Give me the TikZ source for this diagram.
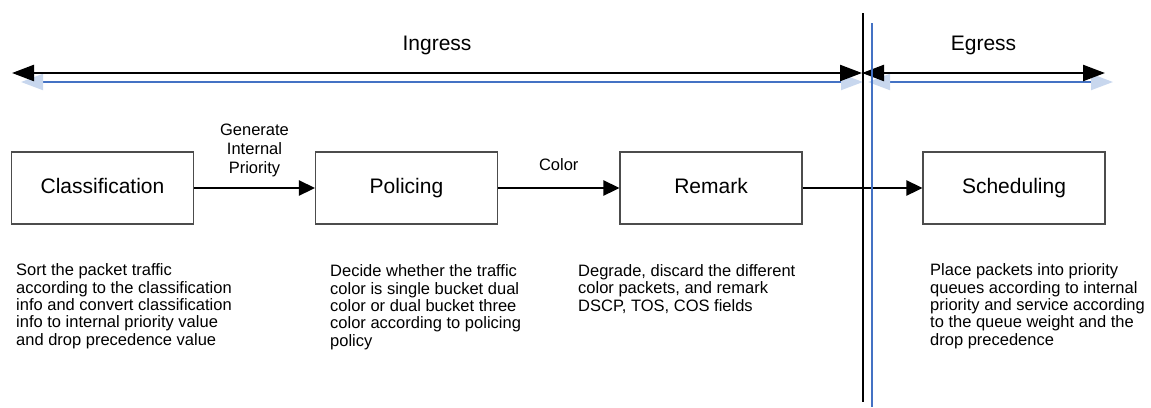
\documentclass[tikz,border=0pt]{standalone}
\usepackage{fontspec}
\setmainfont{Liberation Sans}
\usetikzlibrary{arrows.meta}
\definecolor{shadeblue}{RGB}{68,114,196}
\definecolor{shadetip}{RGB}{200,215,238}

\begin{document}
\begin{tikzpicture}[x=1pt,y=-1pt,every node/.style={inner sep=0pt},
  stagebox/.style={draw=black!70,line width=1.1pt,minimum width=182pt,minimum height=72pt,text height=15.5pt,text depth=4.5pt,font=\fontsize{21}{24}\selectfont},
  desc/.style={anchor=base west,align=left,font=\fontsize{16.5}{17.3}\selectfont},
  flowlbl/.style={align=center,font=\fontsize{16.5}{19}\selectfont},
  phaselbl/.style={font=\fontsize{21}{24}\selectfont},
  flow/.style={line width=2.6pt,-{Triangle[length=16pt,width=15pt]}},
  phase/.style={line width=2.4pt,{Triangle[length=22pt,width=16pt]}-{Triangle[length=22pt,width=16pt]}},
  phaseshade/.style={draw=shadeblue,line width=2pt,{Triangle[length=22pt,width=16pt,color=shadetip]}-{Triangle[length=22pt,width=16pt,color=shadetip]}}]

  \useasboundingbox (0,0) rectangle (1151,407);

  % Specification of nodes (position, etc.)
  \node[stagebox] (cls) at (102.5,188) {Classification};
  \node[stagebox] (pol) at (406.5,188) {Policing};
  \node[stagebox] (rem) at (711,188) {Remark};
  \node[stagebox] (sch) at (1014,188) {Scheduling};

  % descriptions, placed by the baseline of their last line
  \node[desc] (clsdesc) at (16,345) {Sort the packet traffic\\according to the classification\\info and convert classification\\info to internal priority value\\and drop precedence value};
  \node[desc] (poldesc) at (330,346) {Decide whether the traffic\\color is single bucket dual\\color or dual bucket three\\color according to policing\\policy};
  \node[desc] (remdesc) at (578,311) {Degrade, discard the different\\color packets, and remark\\DSCP, TOS, COS fields};
  \node[desc] (schdesc) at (930,345) {Place packets into priority\\queues according to internal\\priority and service according\\to the queue weight and the\\drop precedence};

  % ends of the phase arrows and of the divider
  \coordinate (ingL) at (12,73);
  \coordinate (ingR) at (862,73);
  \coordinate (egrR) at (1105,73);
  \coordinate (ingLs) at (21,82);
  \coordinate (ingRs) at (863,82);
  \coordinate (egrLs) at (868,82);
  \coordinate (egrRs) at (1113,82);
  \coordinate (divT) at (863,13);
  \coordinate (divB) at (863,402);
  \coordinate (divTs) at (872,23);
  \coordinate (divBs) at (872,407);

  \begin{scope}
    \draw[phaseshade] (ingLs) to (ingRs);
    \draw[phaseshade] (egrLs) to (egrRs);
    \draw[phase] (ingL) to node[phaselbl,above=16.5pt] (inglbl) {Ingress} (ingR);
    \draw[phase] (ingR) to node[phaselbl,above=16.5pt] (egrlbl) {Egress} (egrR);
    \draw[flow] (cls) to node[flowlbl,above=10pt] (genlbl) {Generate\\Internal\\Priority} (pol);
    \draw[flow] (pol) to node[flowlbl,above=16pt] (collbl) {Color} (rem);
    \draw[flow] (rem) to (sch);
    \draw[line width=2.6pt] (divT) to (divB);
    \draw[shadeblue,line width=2pt] (divTs) to (divBs);
  \end{scope}

\end{tikzpicture}
\end{document}
